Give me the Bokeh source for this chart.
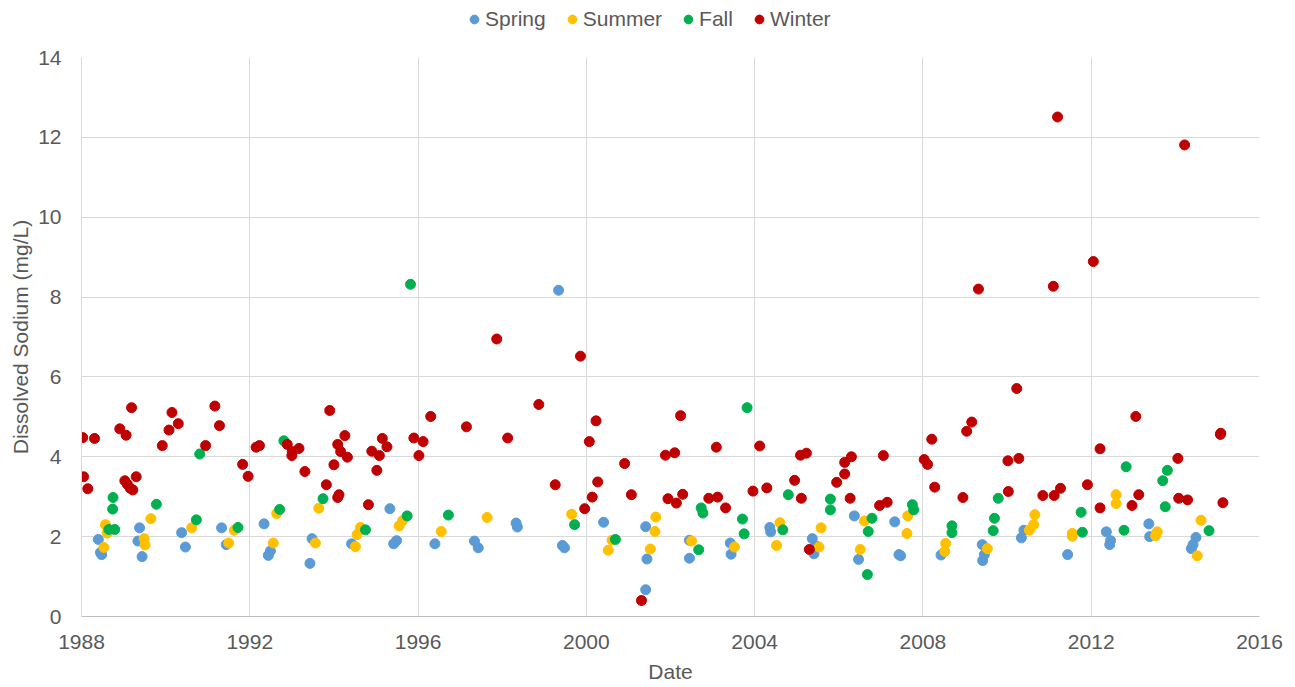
from bokeh.plotting import figure
from bokeh.layouts import column
from bokeh.models import FixedTicker, Legend, LegendItem, Range1d
from bokeh.embed import file_html
from bokeh.resources import INLINE

# ---- data (decimal year, mg/L) ----
spring_x = [1988.40, 1988.45, 1988.48, 1989.38, 1989.34, 1989.44, 1990.38, 1990.47, 1991.33, 1991.44,
            1992.34, 1992.49, 1992.44, 1993.48, 1993.43, 1994.42, 1995.33, 1995.49, 1995.42, 1996.40,
            1997.34, 1997.43, 1998.33, 1998.36, 1999.43, 1999.48, 1999.34, 2000.41, 2001.41, 2001.44,
            2001.41, 2002.45, 2002.45, 2003.42, 2003.44, 2004.36, 2004.38, 2005.37, 2005.47, 2005.41,
            2006.37, 2006.47, 2007.33, 2007.43, 2007.47, 2008.43, 2009.41, 2009.46, 2009.42, 2010.40,
            2010.34, 2011.44, 2012.36, 2012.46, 2012.44, 2013.37, 2013.39, 2014.49, 2014.42, 2014.38]
spring_y = [1.93, 1.60, 1.55, 2.22, 1.89, 1.50, 2.10, 1.74, 2.22, 1.80,
            2.32, 1.64, 1.53, 1.95, 1.33, 1.82, 2.70, 1.90, 1.82, 1.82,
            1.89, 1.72, 2.34, 2.24, 1.78, 1.72, 8.17, 2.36, 2.25, 1.44,
            0.67, 1.91, 1.46, 1.84, 1.56, 2.23, 2.12, 1.95, 1.76, 1.57,
            2.52, 1.43, 2.37, 1.55, 1.52, 1.54, 1.80, 1.55, 1.40, 2.16,
            1.97, 1.55, 2.12, 1.90, 1.80, 2.32, 2.00, 1.98, 1.80, 1.70]

summer_x = [1988.57, 1988.61, 1988.53, 1989.65, 1989.49, 1989.51, 1990.62, 1991.63, 1991.50, 1992.56,
            1992.64, 1993.64, 1993.56, 1994.63, 1994.55, 1994.51, 1995.63, 1995.55, 1996.55, 1997.64,
            1999.65, 2000.61, 2000.52, 2001.65, 2001.63, 2001.52, 2002.50, 2003.52, 2004.60, 2004.52,
            2005.58, 2005.53, 2006.61, 2006.51, 2007.64, 2007.62, 2008.54, 2008.52, 2009.53, 2010.66,
            2010.63, 2010.53, 2011.55, 2011.55, 2012.59, 2012.59, 2013.57, 2013.53, 2014.61, 2014.52]
summer_y = [2.30, 2.09, 1.73, 2.45, 1.95, 1.79, 2.22, 2.16, 1.84, 1.84,
            2.58, 2.71, 1.84, 2.23, 2.05, 1.75, 2.40, 2.27, 2.13, 2.48,
            2.56, 1.91, 1.66, 2.49, 2.13, 1.69, 1.89, 1.74, 2.35, 1.78,
            2.22, 1.74, 2.39, 1.68, 2.52, 2.08, 1.83, 1.63, 1.70, 2.55,
            2.30, 2.16, 2.08, 2.01, 3.05, 2.83, 2.12, 2.02, 2.41, 1.52]

fall_x = [1988.75, 1988.74, 1988.65, 1988.79, 1989.78, 1990.73, 1990.81, 1991.72, 1992.71, 1992.81,
          1993.74, 1994.75, 1995.74, 1995.82, 1996.72, 1999.72, 2000.69, 2002.73, 2002.77, 2002.67,
          2003.71, 2003.75, 2003.82, 2004.80, 2004.67, 2005.80, 2005.80, 2006.79, 2006.70, 2006.68,
          2007.75, 2007.78, 2008.69, 2008.69, 2009.79, 2009.70, 2009.67, 2011.76, 2011.79, 2012.83,
          2012.78, 2013.81, 2013.70, 2013.76, 2014.80]
fall_y = [2.98, 2.69, 2.18, 2.18, 2.81, 2.42, 4.07, 2.23, 2.68, 4.40,
          2.95, 2.17, 2.52, 8.32, 2.54, 2.30, 1.93, 2.72, 2.59, 1.67,
          2.44, 2.07, 5.23, 3.05, 2.17, 2.94, 2.67, 2.46, 2.13, 1.05,
          2.80, 2.67, 2.27, 2.10, 2.96, 2.46, 2.15, 2.61, 2.11, 3.75,
          2.16, 3.66, 3.40, 2.75, 2.15]

winter_x = [1988.03, 1988.31, 1988.05, 1988.15, 1988.91, 1989.06, 1989.03, 1989.09, 1989.16, 1989.22,
            1989.30, 1989.19, 1989.92, 1990.08, 1990.15, 1990.30, 1990.95, 1991.17, 1991.28, 1991.83,
            1991.96, 1992.15, 1992.23, 1992.89, 1993.01, 1993.00, 1993.17, 1993.31, 1993.90, 1993.82,
            1994.09, 1994.12, 1994.00, 1994.09, 1994.26, 1994.16, 1994.32, 1994.82, 1994.90, 1995.02,
            1995.08, 1995.15, 1995.26, 1995.90, 1996.12, 1996.02, 1996.30, 1997.15, 1998.87, 1998.13,
            2000.23, 2000.07, 2001.88, 2000.91, 2000.27, 1999.26, 2000.14, 1999.96, 2001.07, 2001.94,
            2001.31, 1997.87, 1999.86, 2002.24, 2002.10, 2003.09, 2004.12, 2002.14, 2002.29, 2002.91,
            2003.12, 2003.31, 2003.96, 2004.29, 2004.95, 2005.11, 2005.09, 2005.23, 2005.95, 2006.14,
            2006.14, 2006.30, 2006.27, 2005.30, 2007.06, 2006.97, 2007.15, 2008.03, 2008.11, 2008.21,
            2008.28, 2008.95, 2009.04, 2009.16, 2010.02, 2010.28, 2010.23, 2010.03, 2010.85, 2011.12,
            2011.27, 2009.32, 2011.91, 2012.21, 2012.21, 2013.06, 2013.13, 2012.97, 2014.06, 2014.08,
            2014.29, 2015.08, 2015.07, 2015.13, 2011.20, 2011.10, 2012.05, 2014.22]
winter_y = [4.48, 4.46, 3.50, 3.20, 4.70, 4.54, 3.40, 3.31, 3.21, 3.17,
            3.50, 5.23, 4.28, 4.67, 5.11, 4.83, 4.28, 5.27, 4.78, 3.81,
            3.51, 4.24, 4.28, 4.31, 4.13, 4.03, 4.21, 3.63, 5.16, 3.30,
            2.98, 3.05, 3.80, 4.31, 4.53, 4.13, 3.99, 2.80, 4.14, 3.66,
            4.03, 4.46, 4.25, 4.47, 4.38, 4.03, 5.01, 4.75, 5.31, 4.47,
            4.90, 4.38, 4.04, 3.83, 3.37, 3.30, 2.99, 2.70, 3.05, 2.95,
            0.40, 6.95, 6.52, 5.03, 4.10, 4.24, 4.27, 2.84, 3.06, 2.96,
            2.99, 2.72, 3.14, 3.22, 3.41, 2.96, 4.04, 4.09, 3.36, 3.57,
            3.86, 4.00, 2.96, 1.68, 4.03, 2.78, 2.86, 3.93, 3.81, 4.44,
            3.24, 2.98, 4.64, 4.87, 3.90, 3.96, 5.71, 3.13, 3.03, 3.03,
            3.21, 8.20, 3.30, 4.20, 2.72, 5.01, 3.05, 2.78, 3.96, 2.96,
            2.92, 4.59, 4.56, 2.85, 12.51, 8.27, 8.89, 11.81]

x_ticks = [1988, 1992, 1996, 2000, 2004, 2008, 2012, 2016]
y_ticks = [0, 2, 4, 6, 8, 10, 12, 14]

series = [
    ("Spring", spring_x, spring_y, "#5B9BD5"),
    ("Summer", summer_x, summer_y, "#FFC000"),
    ("Fall", fall_x, fall_y, "#00B050"),
    ("Winter", winter_x, winter_y, "#C00000"),
]

FONT = "Liberation Sans"
TXT = "#595959"
GRID = "#d9d9d9"
FS = "21px"

# ---- legend strip (top); its range keeps its copies of the points out of view ----
lg = figure(width=1290, height=37, output_backend="svg", toolbar_location=None,
            x_range=Range1d(0, 1), y_range=Range1d(0, 1),
            x_axis_location=None, y_axis_location=None,
            min_border_left=0, min_border_right=0, min_border_top=0, min_border_bottom=0)
lg.outline_line_color = None
lg.xgrid.visible = False
lg.ygrid.visible = False

# ---- main plot ----
p = figure(width=1290, height=648, output_backend="svg", toolbar_location=None,
           x_range=Range1d(1988, 2016), y_range=Range1d(0, 14),
           min_border_left=81, min_border_right=31, min_border_top=20, min_border_bottom=66)
p.outline_line_color = None
p.background_fill_color = "white"

items = []
for name, xs, ys, col in series:
    p.scatter(xs, ys, size=10, marker="circle", fill_color=col, line_color=col)
    proxy = lg.scatter(xs, ys, marker="circle", fill_color=col, line_color=col)
    items.append(LegendItem(label=name, renderers=[proxy]))

for ax in (p.xaxis[0], p.yaxis[0]):
    ax.major_tick_line_color = None
    ax.minor_tick_line_color = None
    ax.major_label_text_font = FONT
    ax.major_label_text_font_size = FS
    ax.major_label_text_color = TXT
    ax.axis_label_text_font = FONT
    ax.axis_label_text_font_size = FS
    ax.axis_label_text_color = TXT
    ax.axis_label_text_font_style = "normal"

p.xaxis.ticker = FixedTicker(ticks=x_ticks)
p.yaxis.ticker = FixedTicker(ticks=y_ticks)
p.xaxis.axis_label = "Date"
p.yaxis.axis_label = "Dissolved Sodium (mg/L)"
p.xaxis.axis_line_color = "#bfbfbf"
p.yaxis.axis_line_color = GRID
p.xaxis.major_label_standoff = 12
p.xaxis.axis_label_standoff = 8
p.yaxis.major_label_standoff = 14
p.yaxis.axis_label_standoff = 3

p.xgrid.grid_line_color = GRID
p.ygrid.grid_line_color = GRID
p.xgrid.ticker = FixedTicker(ticks=x_ticks)
p.ygrid.ticker = FixedTicker(ticks=y_ticks)

legend = Legend(items=items, orientation="horizontal", location=(382, 6),
                padding=0, margin=0, spacing=15, label_standoff=0,
                glyph_width=22, glyph_height=22,
                label_text_font=FONT, label_text_font_size=FS, label_text_color=TXT,
                border_line_color=None, background_fill_alpha=0)
lg.add_layout(legend, "center")

layout = column(lg, p, spacing=0)
open("out.html", "w").write(file_html(layout, INLINE))
